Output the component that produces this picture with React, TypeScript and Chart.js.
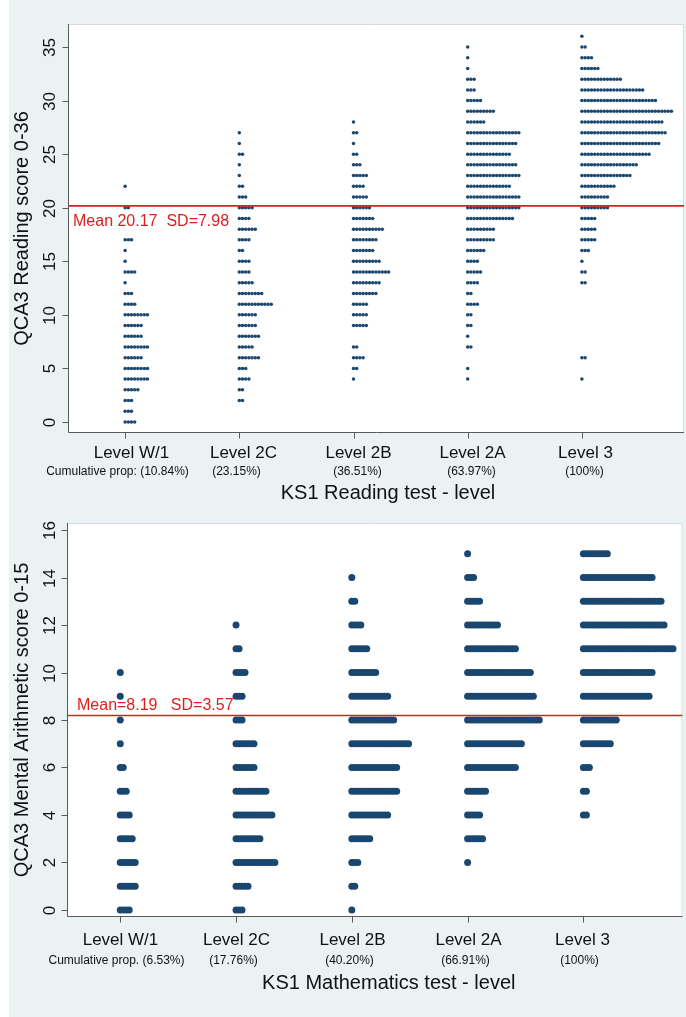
import React, { useEffect, useRef } from 'react';
import { Chart, registerables } from 'chart.js';

Chart.register(...registerables);

// ---------- DATA ----------
const levels = ['Level W/1', 'Level 2C', 'Level 2B', 'Level 2A', 'Level 3'];
const readingCumProp = ['Cumulative prop: (10.84%)', '(23.15%)', '(36.51%)', '(63.97%)', '(100%)'];
const mathsCumProp = ['Cumulative prop. (6.53%)', '(17.76%)', '(40.20%)', '(66.91%)', '(100%)'];

const readingScores = [0, 1, 2, 3, 4, 5, 6, 7, 8, 9, 10, 11, 12, 13, 14, 15, 16, 17, 18, 19, 20, 21, 22, 23, 24, 25, 26, 27, 28, 29, 30, 31, 32, 33, 34, 35, 36];
// number of dots per score (index = score)
const readW1 = [4, 3, 3, 5, 8, 8, 6, 8, 6, 6, 8, 4, 3, 1, 4, 1, 1, 3, 0, 0, 2, 0, 1, 0, 0, 0, 0, 0, 0, 0, 0, 0, 0, 0, 0, 0, 0];
const read2C = [0, 0, 2, 2, 4, 3, 7, 5, 7, 6, 6, 11, 8, 5, 4, 4, 2, 4, 6, 4, 5, 3, 2, 1, 1, 2, 1, 1, 0, 0, 0, 0, 0, 0, 0, 0, 0];
const read2B = [0, 0, 0, 0, 1, 2, 4, 2, 0, 5, 5, 5, 8, 9, 12, 9, 7, 8, 10, 7, 6, 5, 4, 5, 3, 2, 1, 2, 1, 0, 0, 0, 0, 0, 0, 0, 0];
const read2A = [0, 0, 0, 0, 1, 1, 0, 2, 1, 2, 2, 4, 2, 4, 5, 4, 6, 9, 9, 15, 17, 17, 14, 17, 16, 14, 16, 17, 6, 9, 5, 3, 3, 1, 1, 1, 0];
const read3 = [0, 0, 0, 0, 1, 0, 2, 0, 0, 0, 0, 0, 0, 2, 2, 1, 3, 5, 5, 5, 9, 9, 11, 16, 18, 22, 25, 27, 26, 29, 24, 20, 13, 6, 4, 2, 1];
const readingTicks = [0, 5, 10, 15, 20, 25, 30, 35];
const readingMean = 20.17;
const readingSD = 7.98;

const mathsScores = [0, 1, 2, 3, 4, 5, 6, 7, 8, 9, 10, 11, 12, 13, 14, 15];
const mathW1 = [4, 6, 6, 5, 4, 3, 2, 1, 1, 1, 1, 0, 0, 0, 0, 0];
const math2C = [3, 5, 14, 9, 13, 11, 7, 7, 3, 3, 4, 2, 1, 0, 0, 0];
const math2B = [1, 2, 3, 7, 13, 16, 16, 20, 15, 13, 9, 6, 4, 2, 1, 0];
const math2A = [0, 0, 1, 6, 5, 7, 17, 19, 25, 23, 22, 17, 11, 5, 3, 1];
const math3 = [0, 0, 0, 0, 2, 2, 3, 10, 12, 23, 24, 31, 28, 27, 24, 9];
const mathsTicks = [0, 2, 4, 6, 8, 10, 12, 14, 16];
const mathsMean = 8.19;
const mathsSD = 3.57;

// ---------- STYLE ----------
const NAVY = '#1a476f';
const RED = '#e21d1d';
const AXIS = '#5a5a5a';
const TEXT = '#111111';
const FONT = '"Liberation Sans", Arial, Helvetica, sans-serif';

type Panel = {
  width: number;
  height: number;
  padding: { left: number; top: number; right: number; bottom: number };
  counts: number[][];
  scores: number[];
  yTicks: number[];
  yMin: number;
  yMax: number;
  xMin: number;
  xMax: number;
  step: number;
  radius: number;
  mean: number;
  meanText: string;
  meanDx: number;
  meanDy: number;
  cumProp: string[];
  levelDx: number[];
  cumDx: number[];
  levelDy: number;
  cumDy: number;
  titleDy: number;
  titleDx: number;
  xTitle: string;
  yTitle: string;
  yTitleX: number;
  yLabelX: number;
};

const readingPanel: Panel = {
  width: 677,
  height: 505,
  padding: { left: 59, top: 24, right: 2, bottom: 72 },
  counts: [readW1, read2C, read2B, read2A, read3],
  scores: readingScores,
  yTicks: readingTicks,
  yMin: -1.03,
  yMax: 37.15,
  xMin: 0.5,
  xMax: 5.894,
  step: 0.028,
  radius: 1.75,
  mean: readingMean,
  meanText: `Mean ${readingMean.toFixed(2)}  SD=${readingSD.toFixed(2)}`,
  meanDx: 5,
  meanDy: 20,
  cumProp: readingCumProp,
  levelDx: [6, 4, 4, 4, 3],
  cumDx: [-8, -3, 3, 3, 2],
  levelDy: 25,
  cumDy: 42,
  titleDy: 66,
  titleDx: 12,
  xTitle: 'KS1 Reading test - level',
  yTitle: 'QCA3 Reading score 0-36',
  yTitleX: 13,
  yLabelX: 41,
};

const mathsPanel: Panel = {
  width: 677,
  height: 512,
  padding: { left: 58, top: 18, right: 1, bottom: 100 },
  counts: [mathW1, math2C, math2B, math2A, math3],
  scores: mathsScores,
  yTicks: mathsTicks,
  yMin: -0.295,
  yMax: 16.295,
  xMin: 0.54,
  xMax: 5.856,
  step: 0.0258,
  radius: 3.5,
  mean: mathsMean,
  meanText: `Mean=${mathsMean.toFixed(2)}   SD=${mathsSD.toFixed(2)}`,
  meanDx: 10,
  meanDy: -5,
  cumProp: mathsCumProp,
  levelDx: [0, 0, 0, 0, -1],
  cumDx: [-4, -3, -3, -3, -4],
  levelDy: 28,
  cumDy: 47,
  titleDy: 72,
  titleDx: 14,
  xTitle: 'KS1 Mathematics test - level',
  yTitle: 'QCA3 Mental Arithmetic score 0-15',
  yTitleX: 13,
  yLabelX: 41,
};

function makeDecor(p: Panel) {
  return {
    id: 'panelDecor',
    beforeDraw(chart: any) {
      const { ctx, chartArea: a } = chart;
      ctx.save();
      ctx.fillStyle = '#ffffff';
      ctx.fillRect(a.left, a.top, a.right - a.left, a.bottom - a.top);
      ctx.strokeStyle = '#d3dde0';
      ctx.lineWidth = 1;
      ctx.beginPath();
      ctx.moveTo(a.left, a.top + 0.5);
      ctx.lineTo(a.right - 0.5, a.top + 0.5);
      ctx.lineTo(a.right - 0.5, a.bottom);
      ctx.stroke();
      ctx.restore();
    },
    afterDatasetsDraw(chart: any) {
      const { ctx, chartArea: a, scales } = chart;
      const xs = scales.x;
      const ys = scales.y;
      ctx.save();
      ctx.strokeStyle = AXIS;
      ctx.lineWidth = 1;
      const lx = Math.round(a.left) + 0.5;
      const by = Math.round(a.bottom) - 0.5;
      ctx.beginPath();
      ctx.moveTo(lx, a.top);
      ctx.lineTo(lx, by);
      ctx.lineTo(a.right, by);
      ctx.stroke();

      ctx.fillStyle = TEXT;
      ctx.font = `17px ${FONT}`;
      p.yTicks.forEach((v) => {
        const py = Math.round(ys.getPixelForValue(v)) + 0.5;
        ctx.beginPath();
        ctx.moveTo(lx - 6, py);
        ctx.lineTo(lx, py);
        ctx.stroke();
        ctx.save();
        ctx.translate(p.yLabelX, py);
        ctx.rotate(-Math.PI / 2);
        ctx.textAlign = 'center';
        ctx.textBaseline = 'middle';
        ctx.fillText(String(v), 0, 0);
        ctx.restore();
      });

      levels.forEach((lab, i) => {
        const px = Math.round(xs.getPixelForValue(i + 1)) + 0.5;
        ctx.beginPath();
        ctx.moveTo(px, by);
        ctx.lineTo(px, by + 6);
        ctx.stroke();
        ctx.textAlign = 'center';
        ctx.textBaseline = 'alphabetic';
        ctx.font = `17px ${FONT}`;
        ctx.fillText(lab, px + p.levelDx[i], a.bottom + p.levelDy);
        ctx.font = `12px ${FONT}`;
        ctx.fillText(p.cumProp[i], px + p.cumDx[i], a.bottom + p.cumDy);
      });

      ctx.font = `20px ${FONT}`;
      ctx.textAlign = 'center';
      ctx.fillText(p.xTitle, (a.left + a.right) / 2 + p.titleDx, a.bottom + p.titleDy);

      ctx.save();
      ctx.translate(p.yTitleX, (a.top + a.bottom) / 2);
      ctx.rotate(-Math.PI / 2);
      ctx.textAlign = 'center';
      ctx.textBaseline = 'middle';
      ctx.fillText(p.yTitle, 0, 0);
      ctx.restore();

      ctx.fillStyle = RED;
      ctx.font = `16px ${FONT}`;
      ctx.textAlign = 'left';
      ctx.textBaseline = 'alphabetic';
      ctx.fillText(p.meanText, a.left + p.meanDx, ys.getPixelForValue(p.mean) + p.meanDy);
      ctx.restore();
    },
  };
}

function makeConfig(p: Panel): any {
  const datasets: any[] = [
    {
      data: [
        { x: p.xMin, y: p.mean },
        { x: p.xMax, y: p.mean },
      ],
      showLine: true,
      borderColor: RED,
      borderWidth: 1.6,
      pointRadius: 0,
      order: 0,
    },
  ];
  p.counts.forEach((arr, li) => {
    const pts: { x: number; y: number }[] = [];
    arr.forEach((n, si) => {
      for (let k = 0; k < n; k++) pts.push({ x: li + 1 + k * p.step, y: p.scores[si] });
    });
    datasets.push({
      data: pts,
      backgroundColor: NAVY,
      borderWidth: 0,
      pointRadius: p.radius,
      pointHoverRadius: p.radius,
      order: 1,
    });
  });
  return {
    type: 'scatter',
    data: { datasets },
    options: {
      responsive: false,
      animation: false,
      events: [],
      layout: { padding: p.padding },
      plugins: { legend: { display: false }, tooltip: { enabled: false }, title: { display: false } },
      scales: {
        x: { type: 'linear', display: false, min: p.xMin, max: p.xMax },
        y: { type: 'linear', display: false, min: p.yMin, max: p.yMax },
      },
    },
    plugins: [makeDecor(p)],
  };
}

export default function App() {
  const topRef = useRef<HTMLCanvasElement>(null);
  const botRef = useRef<HTMLCanvasElement>(null);
  useEffect(() => {
    const c1 = new Chart(topRef.current as HTMLCanvasElement, makeConfig(readingPanel));
    const c2 = new Chart(botRef.current as HTMLCanvasElement, makeConfig(mathsPanel));
    return () => {
      c1.destroy();
      c2.destroy();
    };
  }, []);
  return (
    <div style={{ position: 'absolute', left: 0, top: 0, width: 686, height: 1017, background: '#ffffff', overflow: 'hidden' }}>
      <div style={{ position: 'absolute', left: 9, top: 0, width: 677, height: 1017, background: '#eaf2f3' }}>
        <canvas ref={topRef} width={readingPanel.width} height={readingPanel.height} style={{ position: 'absolute', left: 0, top: 0, display: 'block' }} />
        <canvas ref={botRef} width={mathsPanel.width} height={mathsPanel.height} style={{ position: 'absolute', left: 0, top: 505, display: 'block' }} />
      </div>
    </div>
  );
}
